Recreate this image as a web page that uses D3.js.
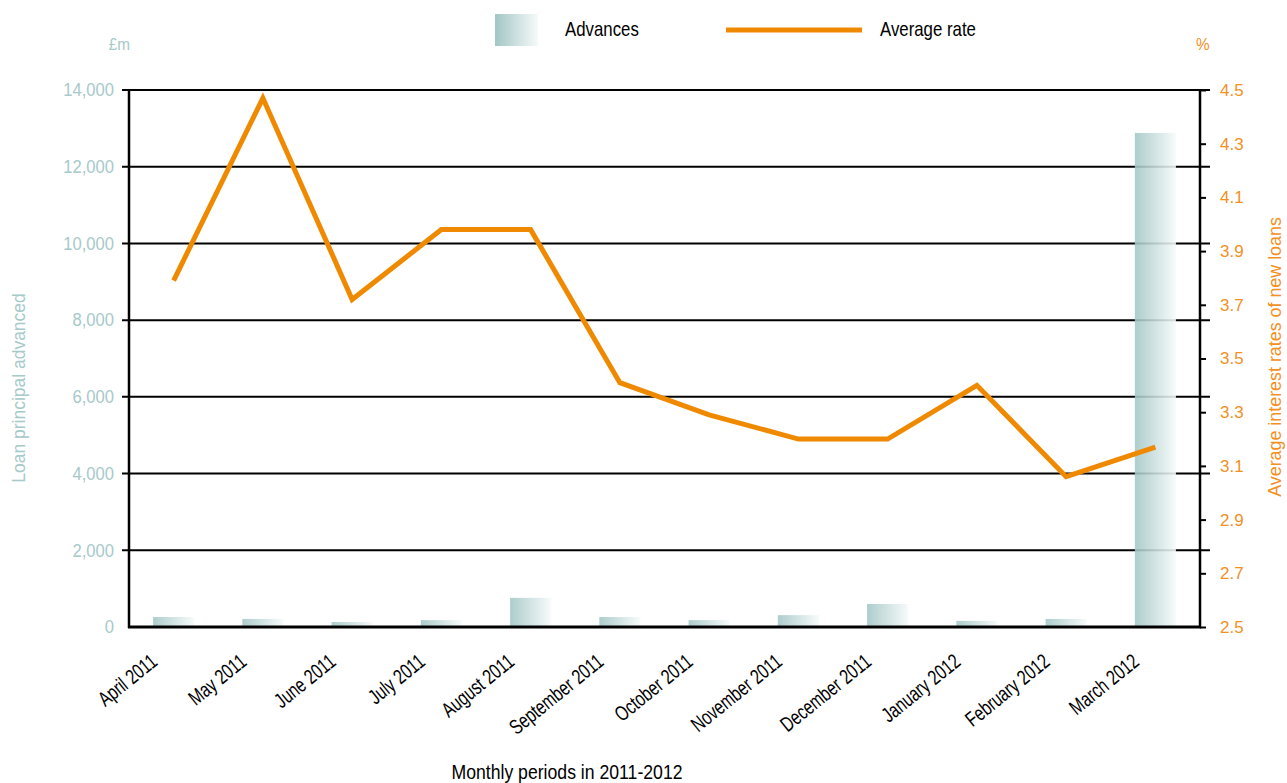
<!DOCTYPE html>
<html>
<head>
<meta charset="utf-8">
<script src="https://cdn.jsdelivr.net/npm/d3@7"></script>
<style>
  html, body { margin: 0; padding: 0; background: #fff; }
  svg { display: block; }
  text { font-family: "Liberation Sans", Arial, sans-serif; }
</style>
</head>
<body>
<svg id="chart" width="1287" height="783"></svg>
<script>
const months = ["April 2011", "May 2011", "June 2011", "July 2011", "August 2011", "September 2011",
  "October 2011", "November 2011", "December 2011", "January 2012", "February 2012", "March 2012"];
const advances = [260, 210, 130, 180, 760, 260, 180, 310, 600, 160, 210, 12880];
const averageRate = [3.79, 4.47, 3.72, 3.98, 3.98, 3.41, 3.29, 3.20, 3.20, 3.40, 3.06, 3.17];
const leftTicks = [0, 2000, 4000, 6000, 8000, 10000, 12000, 14000];
const rightTicks = [2.5, 2.7, 2.9, 3.1, 3.3, 3.5, 3.7, 3.9, 4.1, 4.3, 4.5];
const legendLabels = ["Advances", "Average rate"];

const svg = d3.select("#chart");
const L = 129, R = 1200, T = 90, B = 627;
const orange = "#ef8a00", tealText = "#a6c9c9", orangeText = "#f3901f";
const FONT = '"Liberation Sans", Arial, sans-serif';

function condense(sel, sx) {
  sel.each(function () {
    const len = this.getComputedTextLength();
    d3.select(this).attr("textLength", len * sx).attr("lengthAdjust", "spacingAndGlyphs");
  });
}

const x = d3.scaleBand().domain(months).range([L, R]).paddingInner(0.54).paddingOuter(0.27);
const yL = d3.scaleLinear().domain([0, 14000]).range([B, T]);
const yR = d3.scaleLinear().domain([2.5, 4.5]).range([B, T]);

const defs = svg.append("defs");
const grad = defs.append("linearGradient").attr("id", "barGrad").attr("x1", "0").attr("x2", "1").attr("y1", "0").attr("y2", "0");
grad.append("stop").attr("offset", "0%").attr("stop-color", "#a2c6c5");
grad.append("stop").attr("offset", "100%").attr("stop-color", "#f6fafa");

// gridlines
svg.append("g").selectAll("line").data(leftTicks.filter(d => d > 0)).join("line")
  .attr("x1", L - 7).attr("x2", R + 10)
  .attr("y1", d => yL(d)).attr("y2", d => yL(d))
  .attr("stroke", "#000").attr("stroke-width", 2);

// bars
svg.append("g").selectAll("rect").data(advances).join("rect")
  .attr("x", (d, i) => x(months[i]))
  .attr("width", x.bandwidth())
  .attr("y", d => yL(d))
  .attr("height", d => yL(0) - yL(d))
  .attr("fill", "url(#barGrad)")
  .attr("fill-opacity", 0.88);

// axes lines
svg.append("line").attr("x1", L).attr("x2", L).attr("y1", T - 1).attr("y2", B + 1)
  .attr("stroke", "#000").attr("stroke-width", 2.5);
svg.append("line").attr("x1", R).attr("x2", R).attr("y1", T - 1).attr("y2", B + 1)
  .attr("stroke", "#000").attr("stroke-width", 2.5);
svg.append("line").attr("x1", L - 1).attr("x2", R + 1).attr("y1", B).attr("y2", B)
  .attr("stroke", "#000").attr("stroke-width", 3);

// left axis
const leftAxis = d3.axisLeft(yL).tickValues(leftTicks).tickSize(0).tickPadding(15)
  .tickFormat(d => d3.format(",")(d));
const gl = svg.append("g").attr("transform", `translate(${L},0)`).call(leftAxis);
gl.select(".domain").remove();
gl.selectAll("text").attr("fill", tealText).style("font-size", "18px").style("font-family", FONT)
  .call(condense, 0.92);

// right axis
const rightAxis = d3.axisRight(yR).tickValues(rightTicks).tickSize(6).tickPadding(14)
  .tickFormat(d3.format(".1f"));
const gr = svg.append("g").attr("transform", `translate(${R},0)`).call(rightAxis);
gr.select(".domain").remove();
gr.selectAll("line").attr("stroke", "#000").attr("stroke-width", 2);
gr.selectAll("text").attr("fill", orangeText).style("font-size", "17px").style("font-family", FONT);

// x labels
const xAxis = d3.axisBottom(x).tickSize(0).tickPadding(0);
const gx = svg.append("g").attr("transform", `translate(0,${B})`).call(xAxis);
gx.select(".domain").remove();
gx.selectAll("text")
  .attr("fill", "#000")
  .style("font-size", "21px")
  .style("font-family", FONT)
  .attr("text-anchor", "end")
  .attr("dy", null).attr("y", null)
  .attr("transform", "translate(-15,37) rotate(-39)")
  .call(condense, 0.74);

// line
const line = d3.line().x((d, i) => x(months[i]) + x.bandwidth() / 2).y(d => yR(d));
svg.append("path").datum(averageRate).attr("d", line)
  .attr("fill", "none").attr("stroke", orange).attr("stroke-width", 5)
  .attr("stroke-linejoin", "miter");

// unit labels
svg.append("text").attr("x", 130).attr("y", 50).attr("text-anchor", "end")
  .attr("fill", tealText).style("font-size", "17px").text("£m").call(condense, 0.9);
svg.append("text").attr("x", 1196).attr("y", 50)
  .attr("fill", orangeText).style("font-size", "17px").text("%").call(condense, 0.9);

// axis titles
svg.append("text").attr("transform", "translate(25,388) rotate(-90)").attr("text-anchor", "middle")
  .attr("fill", tealText).style("font-size", "19px").text("Loan principal advanced").call(condense, 0.92);
svg.append("text").attr("transform", "translate(1281,357) rotate(-90)").attr("text-anchor", "middle")
  .attr("fill", orangeText).style("font-size", "19px").text("Average interest rates of new loans").call(condense, 0.94);
svg.append("text").attr("x", 567).attr("y", 779).attr("text-anchor", "middle")
  .attr("fill", "#000").style("font-size", "21px").text("Monthly periods in 2011-2012").call(condense, 0.84);

// legend
const lg = svg.append("g");
lg.append("rect").attr("x", 495).attr("y", 14).attr("width", 43).attr("height", 32).attr("fill", "url(#barGrad)");
lg.append("text").attr("x", 565).attr("y", 36).attr("fill", "#000").style("font-size", "21px").text(legendLabels[0]).call(condense, 0.8);
lg.append("line").attr("x1", 726).attr("x2", 862).attr("y1", 30).attr("y2", 30)
  .attr("stroke", orange).attr("stroke-width", 5);
lg.append("text").attr("x", 880).attr("y", 36).attr("fill", "#000").style("font-size", "21px").text(legendLabels[1]).call(condense, 0.8);
</script>
</body>
</html>
